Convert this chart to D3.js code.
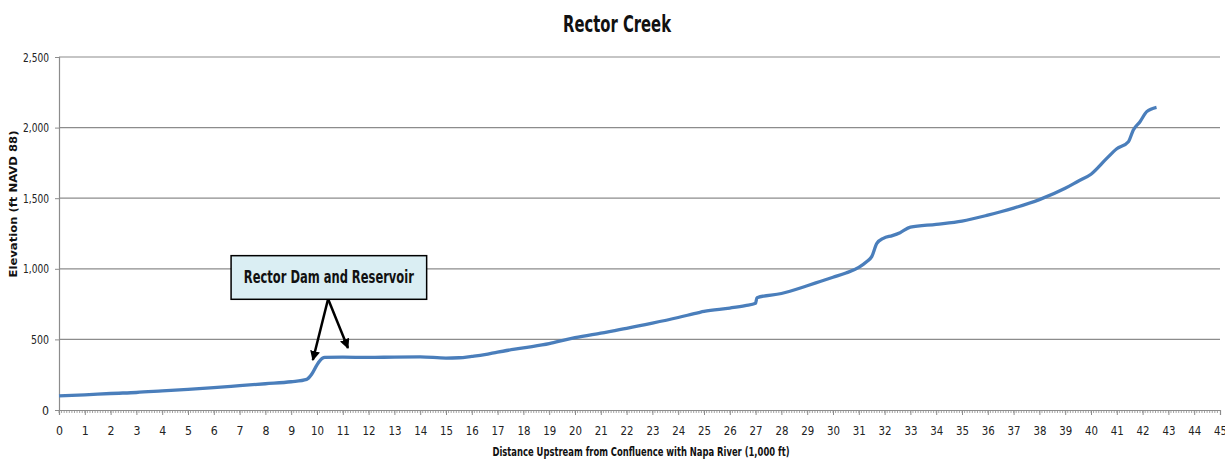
<!DOCTYPE html>
<html><head><meta charset="utf-8">
<script src="https://cdn.jsdelivr.net/npm/d3@7"></script>
<style>
body{margin:0;background:#fff;}
svg text{font-family:"DejaVu Sans Condensed","Liberation Sans Narrow",sans-serif;}
</style></head><body>
<svg id="c" width="1225" height="460"></svg>
<script>
const distance = [0,1,2,3,4,5,6,7,8,9,9.6,9.8,10.0,10.2,10.3,11,12,13,14,15,15.5,16,16.5,17,18,19,19.7,20,21,22,23,24,24.8,25,26,26.6,27.0,27.05,28,29,29.5,30,30.5,31,31.3,31.5,31.7,31.95,32.3,32.6,33,34,35,36,36.5,37,38,39,39.5,40,40.6,41,41.45,41.64,41.9,42.16,42.54];
const elevation = [100,107,117,124,135,146,158,172,186,200,217,255,320,365,373,374,372,375,376,368,370,380,392,410,440,470,500,512,545,578,615,655,690,698,722,740,756,795,825,880,910,940,970,1010,1050,1086,1180,1216,1235,1256,1295,1315,1338,1380,1404,1430,1490,1570,1620,1670,1780,1850,1900,1983,2042,2113,2144];
const yTicks = [0,500,1000,1500,2000,2500];
const xTicks = d3.range(0,46,1);
const title = "Rector Creek";
const yTitle = "Elevation (ft NAVD 88)";
const xTitle = "Distance Upstream from Confluence with Napa River (1,000 ft)";
const noteText = "Rector Dam and Reservoir";
const noteBox = {x0:6.67, x1:14.25, y0:784, y1:1093};
const noteArrows = [{from:[10.43,786], to:[9.84,354]},{from:[10.43,786], to:[11.2,439]}];

const svg = d3.select("#c");
const x = d3.scaleLinear().domain([0,45]).range([59,1220]);
const y = d3.scaleLinear().domain([0,2500]).range([410,57]);

// gridlines
svg.append("g").selectAll("line").data(yTicks.filter(d=>d>0)).join("line")
  .attr("x1",x(0)).attr("x2",x(45)).attr("y1",d=>y(d)).attr("y2",d=>y(d))
  .attr("stroke","#8c8c8c").attr("stroke-width",1.2);

// y axis
const ya = svg.append("g").attr("transform",`translate(${x(0)},0)`)
  .call(d3.axisLeft(y).tickValues(yTicks).tickFormat(d3.format(",")).tickSize(4).tickPadding(6));
ya.select(".domain").attr("stroke","#8c8c8c").attr("stroke-width",1.2);
ya.selectAll(".tick line").attr("stroke","#8c8c8c");
ya.selectAll("text").attr("font-size",12.5).attr("fill","#222")
  .style("font-family",'"DejaVu Sans Condensed",sans-serif')
  .attr("textLength",d=>d>=1000?26:(d>0?18:7)).attr("lengthAdjust","spacingAndGlyphs");

// x minor ticks
svg.append("g").selectAll("line").data(d3.range(0,450).map(i=>i/10)).join("line")
  .attr("x1",d=>x(d)).attr("x2",d=>x(d)).attr("y1",y(0)).attr("y2",y(0)+3)
  .attr("stroke","#8c8c8c").attr("stroke-width",0.8);
const xa = svg.append("g").attr("transform",`translate(0,${y(0)})`)
  .call(d3.axisBottom(x).tickValues(xTicks).tickFormat(d3.format("d")).tickSize(5).tickPadding(11));
xa.select(".domain").attr("stroke","#8c8c8c").attr("stroke-width",1.2);
xa.selectAll(".tick line").attr("stroke","#8c8c8c");
xa.selectAll("text").attr("font-size",12.5).attr("fill","#222")
  .style("font-family",'"DejaVu Sans Condensed",sans-serif')
  .attr("textLength",d=>d>=10?13:7).attr("lengthAdjust","spacingAndGlyphs");

// line
const line = d3.line().x((d,i)=>x(distance[i])).y(d=>y(d)).curve(d3.curveMonotoneX);
svg.append("path").datum(elevation).attr("d",line)
  .attr("fill","none").attr("stroke","#4a7ebb").attr("stroke-width",3.3).attr("stroke-linejoin","round");

// annotation
const defs = svg.append("defs");
defs.append("marker").attr("id","ah").attr("viewBox","0 0 10 10").attr("refX",9).attr("refY",5)
  .attr("markerWidth",4).attr("markerHeight",4).attr("orient","auto")
  .append("path").attr("d","M0,0L10,5L0,10z").attr("fill","#000");
svg.append("g").selectAll("line").data(noteArrows).join("line")
  .attr("x1",d=>x(d.from[0])).attr("y1",d=>y(d.from[1]))
  .attr("x2",d=>x(d.to[0])).attr("y2",d=>y(d.to[1]))
  .attr("stroke","#000").attr("stroke-width",2.5).attr("marker-end","url(#ah)");
svg.append("rect").attr("x",x(noteBox.x0)).attr("y",y(noteBox.y1))
  .attr("width",x(noteBox.x1)-x(noteBox.x0)).attr("height",y(noteBox.y0)-y(noteBox.y1))
  .attr("fill","#daeef3").attr("stroke","#000").attr("stroke-width",1.5);
svg.append("text").attr("x",(x(noteBox.x0)+x(noteBox.x1))/2).attr("y",(y(noteBox.y0)+y(noteBox.y1))/2)
  .attr("dy","0.35em").attr("text-anchor","middle").attr("font-size",17).attr("font-weight","bold")
  .attr("fill","#111").attr("textLength",170).attr("lengthAdjust","spacingAndGlyphs").text(noteText);

// titles
svg.append("text").attr("x",617).attr("y",32).attr("text-anchor","middle")
  .attr("font-size",23).attr("font-weight","bold").attr("fill","#111")
  .attr("textLength",108).attr("lengthAdjust","spacingAndGlyphs").text(title);
svg.append("text").attr("transform","translate(17,204) rotate(-90)").attr("text-anchor","middle")
  .attr("font-size",11).attr("font-weight","bold").attr("fill","#111")
  .style("font-family",'"DejaVu Sans",Verdana,sans-serif')
  .attr("textLength",147).attr("lengthAdjust","spacingAndGlyphs").text(yTitle);
svg.append("text").attr("x",641).attr("y",456).attr("text-anchor","middle")
  .attr("font-size",12).attr("font-weight","bold").attr("fill","#111")
  .attr("textLength",297).attr("lengthAdjust","spacingAndGlyphs").text(xTitle);
</script></body></html>
